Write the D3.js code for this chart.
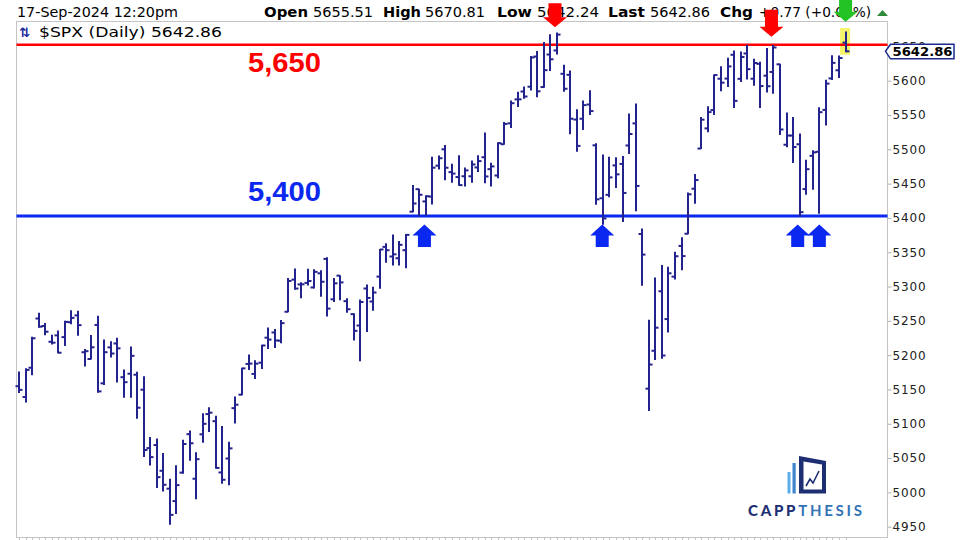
<!DOCTYPE html>
<html>
<head>
<meta charset="utf-8">
<script src="https://cdn.jsdelivr.net/npm/d3@7"></script>
<style>
  html, body { margin: 0; padding: 0; background: #fff; }
  svg { display: block; }
</style>
</head>
<body>
<svg id="chart" width="960" height="540"></svg>
<script>
// ---------------- DATA ----------------
const dates = [
  "03-18","03-19","03-20","03-21","03-22","03-25","03-26","03-27","03-28",
  "04-01","04-02","04-03","04-04","04-05","04-08","04-09","04-10","04-11","04-12","04-15","04-16","04-17","04-18","04-19","04-22","04-23","04-24","04-25","04-26","04-29","04-30",
  "05-01","05-02","05-03","05-06","05-07","05-08","05-09","05-10","05-13","05-14","05-15","05-16","05-17","05-20","05-21","05-22","05-23","05-24","05-28","05-29","05-30","05-31",
  "06-03","06-04","06-05","06-06","06-07","06-10","06-11","06-12","06-13","06-14","06-17","06-18","06-20","06-21","06-24","06-25","06-26","06-27","06-28",
  "07-01","07-02","07-03","07-05","07-08","07-09","07-10","07-11","07-12","07-15","07-16","07-17","07-18","07-19","07-22","07-23","07-24","07-25","07-26","07-29","07-30","07-31",
  "08-01","08-02","08-05","08-06","08-07","08-08","08-09","08-12","08-13","08-14","08-15","08-16","08-19","08-20","08-21","08-22","08-23","08-26","08-27","08-28","08-29","08-30",
  "09-03","09-04","09-05","09-06","09-09","09-10","09-11","09-12","09-13","09-16","09-17"
];
const openV = [
  5154.77,5139.09,5181.69,5253.43,5242.48,5219.52,5228.85,5226.31,5248.03,
  5257.97,5204.29,5194.37,5244.05,5158.95,5211.37,5217.03,5167.88,5172.95,5171.51,5149.67,5064.59,5068.97,5031.52,5005.44,4987.33,5028.85,5084.86,5019.88,5084.65,5114.13,5103.78,
  5029.03,5049.32,5122.78,5142.42,5187.20,5172.69,5189.03,5225.49,5233.08,5221.10,5263.26,5310.07,5303.10,5305.35,5298.69,5319.28,5340.26,5281.45,5315.91,5278.73,5259.77,5243.21,
  5297.15,5278.24,5314.48,5357.80,5343.81,5341.22,5353.00,5409.13,5441.93,5424.08,5431.11,5476.15,5499.99,5466.77,5459.58,5460.73,5460.71,5473.59,5488.48,
  5471.08,5461.84,5507.44,5537.91,5572.75,5584.24,5591.26,5635.21,5590.76,5638.16,5644.09,5610.07,5608.56,5543.37,5544.57,5565.30,5505.84,5428.70,5433.67,5476.55,5478.73,5505.59,
  5537.84,5376.63,5151.14,5206.42,5293.13,5252.57,5314.37,5359.19,5376.98,5442.53,5501.13,5530.50,5557.23,5602.88,5603.09,5637.77,5602.75,5639.66,5602.89,5624.51,5607.30,5612.74,
  5623.89,5506.68,5520.08,5507.33,5442.07,5490.51,5496.42,5557.48,5603.34,5615.21,5655.51
];
const highV = [
  5175.60,5180.31,5226.19,5261.10,5246.09,5229.09,5235.16,5249.26,5264.85,
  5263.95,5208.34,5228.75,5256.59,5222.18,5219.57,5224.81,5178.43,5211.78,5175.03,5168.43,5079.84,5077.96,5056.66,5019.02,5038.84,5076.12,5089.48,5057.75,5114.62,5123.49,5110.83,
  5096.12,5073.21,5139.12,5181.00,5200.23,5191.70,5214.53,5239.66,5237.26,5250.37,5311.76,5325.49,5305.45,5325.32,5324.32,5323.18,5341.88,5311.65,5315.91,5282.26,5260.21,5280.33,
  5302.11,5298.80,5354.16,5362.35,5375.08,5365.79,5375.95,5447.25,5441.93,5432.39,5488.50,5490.38,5505.53,5478.31,5490.66,5472.88,5483.14,5490.81,5523.64,
  5479.55,5509.69,5539.27,5570.33,5583.11,5590.75,5635.39,5642.45,5655.56,5666.94,5669.67,5622.49,5614.05,5557.50,5570.36,5585.34,5508.04,5491.59,5488.32,5487.74,5489.46,5551.51,
  5566.16,5383.89,5250.89,5312.34,5330.64,5328.03,5350.16,5371.20,5436.50,5463.22,5546.23,5561.98,5608.30,5620.51,5632.68,5643.22,5641.82,5651.62,5631.18,5627.03,5646.95,5651.37,
  5623.89,5552.99,5546.30,5522.47,5484.20,5497.91,5560.41,5600.71,5636.27,5636.05,5670.81
];
const lowV = [
  5145.47,5131.59,5171.55,5240.66,5229.87,5216.09,5203.42,5213.92,5245.82,
  5229.20,5184.05,5194.37,5146.06,5157.21,5197.35,5160.78,5138.70,5138.77,5107.94,5052.47,5039.83,5007.25,5001.89,4953.56,4969.40,5027.96,5047.02,4990.58,5073.14,5088.65,5035.31,
  5013.45,5011.05,5101.22,5142.42,5178.96,5165.86,5180.73,5209.68,5211.16,5217.98,5263.26,5296.19,5283.59,5302.40,5297.87,5286.01,5256.93,5278.39,5280.89,5262.70,5222.10,5191.68,
  5234.32,5265.56,5297.64,5335.36,5331.33,5331.52,5327.25,5409.13,5402.51,5403.75,5420.40,5471.32,5455.56,5452.03,5447.59,5446.56,5451.87,5467.54,5451.12,
  5446.53,5458.43,5507.42,5531.63,5562.51,5574.57,5586.44,5576.53,5590.44,5614.75,5639.02,5584.81,5522.81,5497.04,5529.04,5550.90,5419.98,5390.95,5430.70,5444.44,5394.71,5493.75,
  5410.42,5302.03,5119.26,5193.56,5195.54,5233.85,5311.09,5324.37,5376.98,5421.35,5501.13,5525.68,5550.74,5585.50,5591.57,5560.95,5598.87,5602.34,5593.48,5560.95,5583.71,5581.79,
  5521.63,5503.66,5480.67,5402.62,5434.49,5441.72,5406.96,5535.50,5601.65,5604.53,5642.24
];
const closeV = [
  5149.42,5178.51,5224.62,5241.53,5234.18,5218.19,5203.58,5248.49,5254.35,
  5243.77,5205.81,5211.49,5147.21,5204.34,5202.39,5209.91,5160.64,5199.06,5123.41,5061.82,5051.41,5022.21,5011.12,4967.23,5010.60,5070.55,5071.63,5048.42,5099.96,5116.17,5035.69,
  5018.39,5064.20,5127.79,5180.74,5187.70,5187.67,5214.08,5222.68,5221.42,5246.68,5308.15,5297.10,5303.27,5308.13,5321.41,5307.01,5267.84,5304.72,5306.04,5266.95,5235.48,5277.51,
  5283.40,5291.34,5354.03,5352.96,5346.99,5360.79,5375.32,5421.03,5433.74,5431.60,5473.23,5487.03,5473.17,5464.62,5447.87,5469.30,5477.90,5482.87,5460.48,
  5475.09,5509.01,5537.02,5567.19,5572.85,5576.98,5633.91,5584.54,5615.35,5631.22,5667.20,5588.27,5544.59,5505.00,5564.41,5555.74,5427.13,5399.22,5459.10,5463.54,5436.44,5522.30,
  5446.68,5346.56,5186.33,5240.03,5199.50,5319.31,5344.16,5344.39,5434.43,5455.21,5543.22,5554.25,5608.25,5597.12,5620.85,5570.64,5634.61,5616.84,5625.80,5592.18,5591.96,5648.40,
  5528.93,5520.07,5503.41,5408.42,5471.05,5495.52,5554.13,5595.76,5626.02,5633.09,5642.86
];
const yTicks = [4950,5000,5050,5100,5150,5200,5250,5300,5350,5400,5450,5500,5550,5600,5650];
// hand-drawn level lines (drawn at these prices), with their labels
const levels = [
  {value: 5652.5, label: "5,650", color: "#ff0000", width: 2.6, labelDy: 27.5},
  {value: 5403, label: "5,400", color: "#0a28f0", width: 3, labelDy: -15}
];
// arrow annotations: position in bar-index units, tip price
const downArrows = [
  {idx: 81.7, tip: 5678, color: "#ff0000", len: 24},
  {idx: 114.7, tip: 5664, color: "#ff0000", len: 27},
  {idx: 126, tip: 5686, color: "#22c322", len: 22}
];
const upArrows = [61.8, 88.9, 118.7, 122];
const header = [
  {t: "17-Sep-2024 12:20pm", bold: false, x: 17, w: 161},
  {t: "Open", bold: true, x: 264, w: 44},
  {t: "5655.51", bold: false, x: 313, w: 60},
  {t: "High", bold: true, x: 383, w: 38},
  {t: "5670.81", bold: false, x: 425, w: 60},
  {t: "Low", bold: true, x: 497, w: 35},
  {t: "5642.24", bold: false, x: 537, w: 62},
  {t: "Last", bold: true, x: 608, w: 37},
  {t: "5642.86", bold: false, x: 650, w: 60},
  {t: "Chg", bold: true, x: 720, w: 33},
  {t: "+0.77 (+0.01%)", bold: false, x: 759, w: 112}
];
const lastPrice = 5642.86;

// ---------------- CHART ----------------
const svg = d3.select("#chart");
const plot = {left: 16.5, right: 887.5, top: 21.5, bottom: 537.5};
const x = d3.scalePoint().domain(dates).range([19, 845.6]);
const xi = d3.scaleLinear().domain([0, dates.length - 1]).range([19, 845.6]);
const y = d3.scaleLinear().domain([4950, 5650]).range([526.7, 46.4]);
const barColor = "#23238e";
const font = "'DejaVu Sans', Verdana, sans-serif";

// plot frame
svg.append("rect")
  .attr("x", plot.left).attr("y", plot.top)
  .attr("width", plot.right - plot.left).attr("height", plot.bottom - plot.top)
  .attr("fill", "none").attr("stroke", "#c4c4c4").attr("stroke-width", 1);

// bottom ticks
svg.append("g").selectAll("line").data(dates).join("line")
  .attr("x1", d => Math.round(x(d)) + 0.5).attr("x2", d => Math.round(x(d)) + 0.5)
  .attr("y1", plot.bottom).attr("y2", plot.bottom + 3)
  .attr("stroke", "#c4c4c4").attr("stroke-width", 1);

// yellow highlight for last bar
const lastI = dates.length - 1;
svg.append("rect")
  .attr("x", x(dates[lastI]) - 5.5).attr("y", y(highV[lastI]) - 4)
  .attr("width", 10).attr("height", y(lowV[lastI]) - y(highV[lastI]) + 7)
  .attr("fill", "#f4f46a");

// header texts
const hdr = svg.append("g").attr("font-family", font).attr("font-size", 14.5).attr("fill", "#000");
header.forEach(h => {
  hdr.append("text").attr("x", h.x).attr("y", 17)
    .attr("font-weight", h.bold ? "bold" : "normal")
    .attr("textLength", h.w).attr("lengthAdjust", "spacingAndGlyphs")
    .text(h.t);
});
// small green up-triangle after Chg
svg.append("path").attr("d", "M877,16 L882.5,10 L888,16 Z").attr("fill", "#2e8b3a");

// series name
svg.append("text").attr("x", 19).attr("y", 37).attr("font-family", font)
  .attr("font-size", 13).attr("fill", "#1a2a9c").attr("font-weight", "bold").text("⇅");
svg.append("text").attr("x", 39).attr("y", 37).attr("font-family", font)
  .attr("font-size", 14.5).attr("fill", "#000")
  .attr("textLength", 183).attr("lengthAdjust", "spacingAndGlyphs")
  .text("$SPX (Daily) " + lastPrice.toFixed(2));

// level lines
svg.append("g").selectAll("line").data(levels).join("line")
  .attr("x1", plot.left).attr("x2", plot.right)
  .attr("y1", d => y(d.value)).attr("y2", d => y(d.value))
  .attr("stroke", d => d.color).attr("stroke-width", d => d.width);

// level labels
svg.append("g").selectAll("text").data(levels).join("text")
  .attr("x", 248).attr("y", d => y(d.value) + d.labelDy)
  .attr("font-family", "'Liberation Sans', Arial, sans-serif").attr("font-weight", "bold")
  .attr("font-size", 27).attr("fill", d => d.color)
  .attr("textLength", 73).attr("lengthAdjust", "spacingAndGlyphs").text(d => d.label);

// OHLC bars
const bars = svg.append("g").attr("stroke", barColor).attr("stroke-width", 2).attr("fill", "none");
dates.forEach((d, i) => {
  const cx = Math.round(x(d));
  bars.append("line").attr("x1", cx).attr("x2", cx)
    .attr("y1", y(highV[i]) - 0.5).attr("y2", y(lowV[i]) + 0.5);
  bars.append("line").attr("x1", cx - 3.5).attr("x2", cx)
    .attr("y1", y(openV[i])).attr("y2", y(openV[i]));
  bars.append("line").attr("x1", cx).attr("x2", cx + 3.5)
    .attr("y1", y(closeV[i])).attr("y2", y(closeV[i]));
});

// y axis
const yAxis = d3.axisRight(y).tickValues(yTicks).tickSize(4).tickFormat(d3.format("d"));
const ga = svg.append("g").attr("transform", `translate(${plot.right},0)`).call(yAxis);
ga.select(".domain").remove();
ga.selectAll(".tick line").attr("stroke", "#b0b0b0");
ga.selectAll(".tick text").attr("x", 5).attr("font-family", font).attr("font-size", 12)
  .attr("letter-spacing", 0.9).attr("fill", "#222");

// last price tag
const ly = y(lastPrice);
svg.append("path")
  .attr("d", `M${plot.right - 2},${ly} L${plot.right + 3},${ly - 7} L954,${ly - 7} L954,${ly + 7.5} L${plot.right + 3},${ly + 7.5} Z`)
  .attr("fill", "#fff").attr("stroke", "#1a2a8c").attr("stroke-width", 1.5);
svg.append("text").attr("x", plot.right + 5).attr("y", ly + 5)
  .attr("font-family", font).attr("font-weight", "bold").attr("font-size", 13)
  .attr("textLength", 60).attr("lengthAdjust", "spacingAndGlyphs").attr("fill", "#000")
  .text(lastPrice.toFixed(2));

// arrows
function downArrow(cx, tipY, len) {
  const hw = 12, sw = 6.5, hh = 10;
  const top = tipY - len;
  return `M${cx - sw},${top} L${cx + sw},${top} L${cx + sw},${tipY - hh} L${cx + hw},${tipY - hh} L${cx},${tipY} L${cx - hw},${tipY - hh} L${cx - sw},${tipY - hh} Z`;
}
function upArrow(cx, tipY, len) {
  const hw = 12, sw = 6.5, hh = 11;
  const bot = tipY + len;
  return `M${cx - sw},${bot} L${cx + sw},${bot} L${cx + sw},${tipY + hh} L${cx + hw},${tipY + hh} L${cx},${tipY} L${cx - hw},${tipY + hh} L${cx - sw},${tipY + hh} Z`;
}
svg.append("g").selectAll("path").data(downArrows).join("path")
  .attr("d", d => downArrow(xi(d.idx), y(d.tip), d.len)).attr("fill", d => d.color);
svg.append("g").selectAll("path").data(upArrows).join("path")
  .attr("d", d => upArrow(xi(d), y(levels[1].value) + 8.5, 22.5)).attr("fill", "#0a28f0");

// logo
const logo = svg.append("g");
logo.append("rect").attr("x", 787.5).attr("y", 472).attr("width", 3).attr("height", 21.5).attr("fill", "#5aaee6");
logo.append("rect").attr("x", 792.5).attr("y", 463).attr("width", 3.2).attr("height", 30.5).attr("fill", "#3b86cc");
logo.append("path")
  .attr("d", "M799,456 L826,461 L826,493.5 L799,493.5 Z M803.5,461.5 L803.5,489.5 L822,489.5 L822,464.5 Z")
  .attr("fill", "#1d2f72").attr("fill-rule", "evenodd");
logo.append("path").attr("d", "M806,486 L810,479 L813,483 L819,471")
  .attr("fill", "none").attr("stroke", "#1d2f72").attr("stroke-width", 1.6);
const lt = logo.append("text").attr("x", 748).attr("y", 516)
  .attr("font-family", "Lato, 'Open Sans', sans-serif").attr("font-size", 15)
  .attr("textLength", 114).attr("lengthAdjust", "spacing");
lt.append("tspan").attr("fill", "#1d2f72").attr("font-weight", "900").text("CAPP");
lt.append("tspan").attr("fill", "#3574b6").attr("font-weight", "700").text("THESIS");
</script>
</body>
</html>
